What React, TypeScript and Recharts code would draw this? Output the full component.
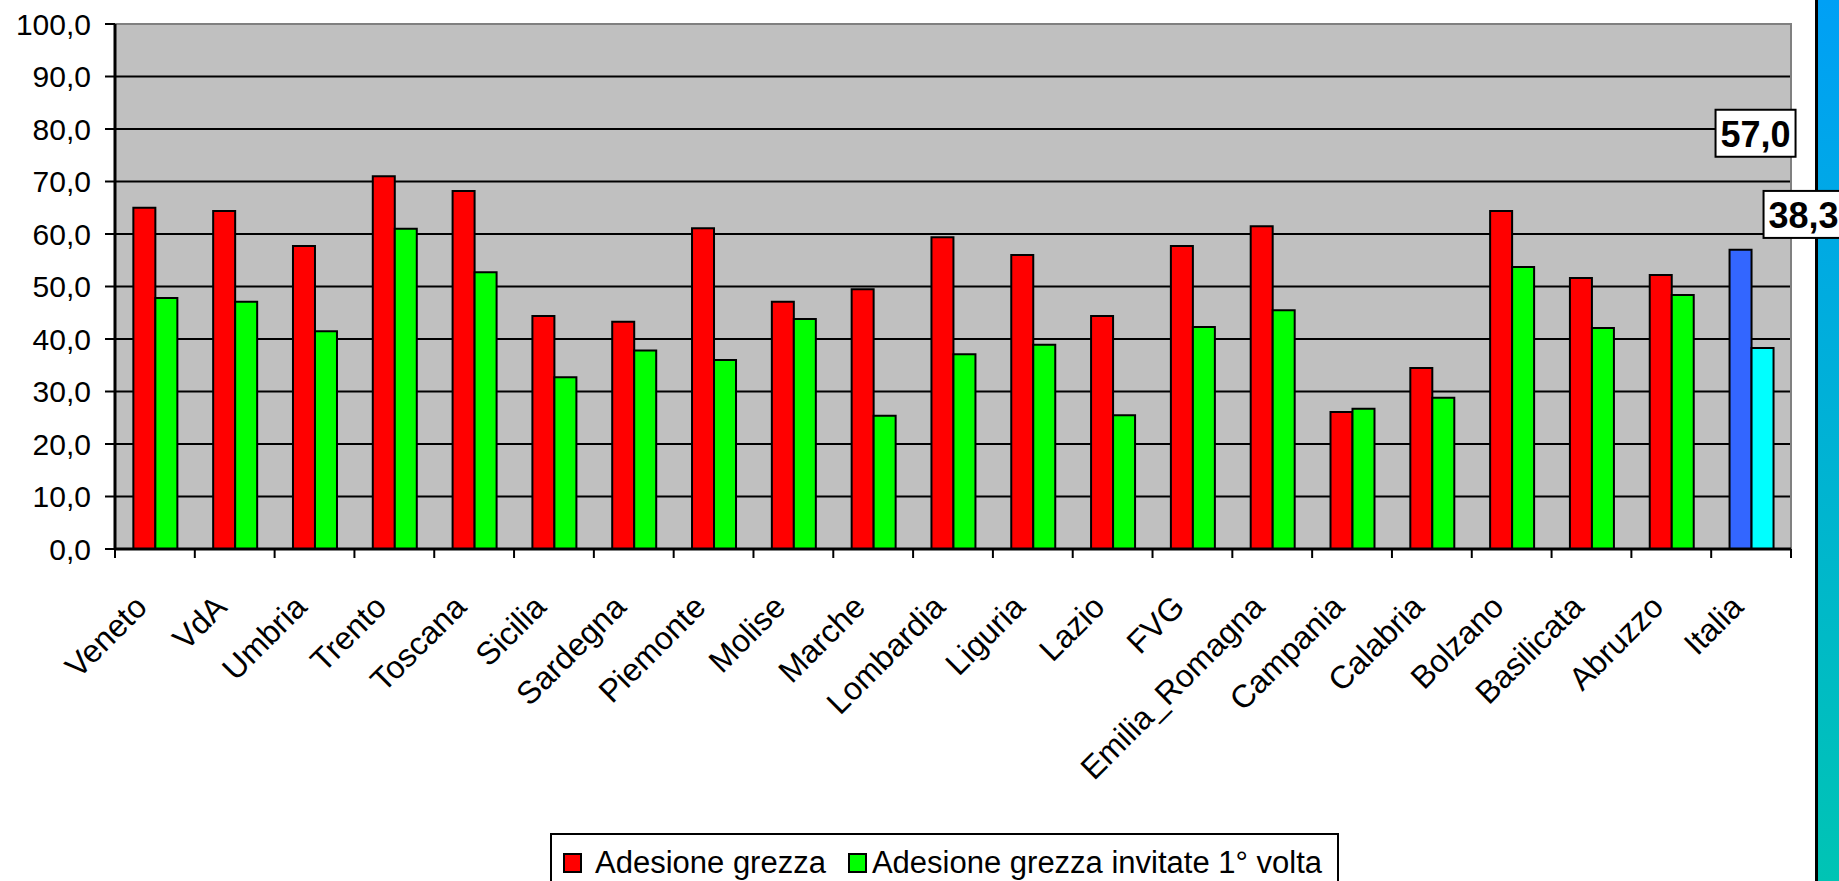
import React from 'react';
import { BarChart, Bar, XAxis, YAxis, CartesianGrid, Cell, ReferenceArea } from 'recharts';

const regions = ['Veneto', 'VdA', 'Umbria', 'Trento', 'Toscana', 'Sicilia', 'Sardegna', 'Piemonte', 'Molise', 'Marche', 'Lombardia', 'Liguria', 'Lazio', 'FVG', 'Emilia_Romagna', 'Campania', 'Calabria', 'Bolzano', 'Basilicata', 'Abruzzo', 'Italia'];
const adesioneGrezza = [65.0, 64.4, 57.7, 71.0, 68.2, 44.4, 43.3, 61.1, 47.1, 49.5, 59.4, 56.0, 44.4, 57.7, 61.5, 26.1, 34.5, 64.4, 51.6, 52.2, 57.0];
const adesioneInvitate = [47.8, 47.1, 41.5, 61.0, 52.7, 32.7, 37.8, 36.0, 43.8, 25.4, 37.1, 38.9, 25.5, 42.3, 45.5, 26.7, 28.8, 53.7, 42.1, 48.4, 38.3];
const yTicks = [0, 10, 20, 30, 40, 50, 60, 70, 80, 90, 100];
const gridValues = [10, 20, 30, 40, 50, 60, 70, 80, 90];
const seriesNames = ['Adesione grezza', 'Adesione grezza invitate 1° volta'];
const seriesColors = ['#FF0000', '#00FF00'];
const totalColors = ['#3366FF', '#00FFFF'];

const data = regions.map((r, i) => ({ name: r, a: adesioneGrezza[i], b: adesioneInvitate[i] }));

const FONT = '"Liberation Sans", Arial, sans-serif';
const fmt = (v: number) => v.toFixed(1).replace('.', ',');

const CategoryTick = (props: any) => {
  const { x, y, payload } = props;
  const idx = props.index ?? payload.index;
  const half = payload.offset ?? 0;
  const tx = x - 6;
  const ty = y + 60;
  return (
    <g>
      <line x1={x - half} y1={y} x2={x - half} y2={y + 9} stroke="#000" strokeWidth={2} />
      {idx === regions.length - 1 && (
        <line x1={x + half} y1={y} x2={x + half} y2={y + 9} stroke="#000" strokeWidth={2} />
      )}
      <text x={tx} y={ty} textAnchor="end" transform={`rotate(-45, ${tx}, ${ty})`} fontSize={32} fontFamily={FONT} fill="#000">
        {payload.value}
      </text>
    </g>
  );
};

const makeTotalLabel = (dx: number, dy: number) => (props: any) => {
  const { x, y, value, index } = props;
  if (index !== regions.length - 1) return null;
  const bx = Number(x) + dx;
  const by = Number(y) + dy;
  return (
    <g>
      <rect x={bx} y={by} width={80} height={47} fill="#fff" stroke="#000" strokeWidth={2} />
      <text x={bx + 40} y={by + 37} textAnchor="middle" fontWeight="bold" fontSize={36} fontFamily={FONT} fill="#000">
        {fmt(Number(value))}
      </text>
    </g>
  );
};

export default function App() {
  return (
    <div style={{ position: 'absolute', left: 0, top: 0, width: 1839, height: 881, background: '#fff', overflow: 'hidden' }}>
      <div
        style={{
          position: 'absolute',
          left: 1815,
          top: 0,
          width: 21,
          height: 881,
          borderLeft: '3px solid #000',
          background: 'linear-gradient(#00A0F5, #00C4B4)',
        }}
      />
      <div style={{ position: 'absolute', left: 0, top: 0 }}>
        <BarChart
          width={1839}
          height={881}
          data={data}
          margin={{ top: 24, right: 48, left: 0, bottom: 0 }}
          barCategoryGap="23%"
          barGap={0}
        >
          <CartesianGrid fill="#C0C0C0" vertical={false} horizontalValues={gridValues} stroke="#000" strokeWidth={2} />
          <ReferenceArea y1={0} y2={100} fill="none" stroke="#808080" strokeWidth={2} ifOverflow="visible" />
          <XAxis
            dataKey="name"
            interval={0}
            height={332}
            tickSize={0}
            tickMargin={0}
            tickLine={false}
            axisLine={{ stroke: '#000', strokeWidth: 3 }}
            tick={<CategoryTick />}
          />
          <YAxis
            domain={[0, 100]}
            ticks={yTicks}
            width={115}
            tickSize={10}
            tickMargin={14}
            tickFormatter={fmt}
            axisLine={{ stroke: '#000', strokeWidth: 3 }}
            tickLine={{ stroke: '#000', strokeWidth: 2 }}
            tick={{ fill: '#000', fontSize: 30, fontFamily: FONT }}
          />
          <Bar dataKey="a" name={seriesNames[0]} fill={seriesColors[0]} stroke="#000" strokeWidth={2} isAnimationActive={false} label={makeTotalLabel(-14, -140)}>
            {data.map((d, i) => (
              <Cell key={i} fill={i === data.length - 1 ? totalColors[0] : seriesColors[0]} />
            ))}
          </Bar>
          <Bar dataKey="b" name={seriesNames[1]} fill={seriesColors[1]} stroke="#000" strokeWidth={2} isAnimationActive={false} label={makeTotalLabel(12, -157)}>
            {data.map((d, i) => (
              <Cell key={i} fill={i === data.length - 1 ? totalColors[1] : seriesColors[1]} />
            ))}
          </Bar>
        </BarChart>
      </div>
      <div
        style={{
          position: 'absolute',
          left: 550,
          top: 833,
          width: 789,
          height: 60,
          border: '2px solid #000',
          boxSizing: 'border-box',
          background: '#fff',
          display: 'flex',
          alignItems: 'flex-start',
          paddingTop: 10,
          paddingLeft: 11,
          fontFamily: FONT,
          fontSize: 31,
          color: '#000',
          whiteSpace: 'nowrap',
        }}
      >
        {seriesNames.map((n, i) => (
          <div key={n} style={{ display: 'flex', alignItems: 'center', marginRight: 22 }}>
            <span style={{ display: 'inline-block', width: 15, height: 16, border: '2px solid #000', background: seriesColors[i], marginRight: i === 0 ? 13 : 5 }} />
            <span style={{ lineHeight: '36px' }}>{n}</span>
          </div>
        ))}
      </div>
    </div>
  );
}
